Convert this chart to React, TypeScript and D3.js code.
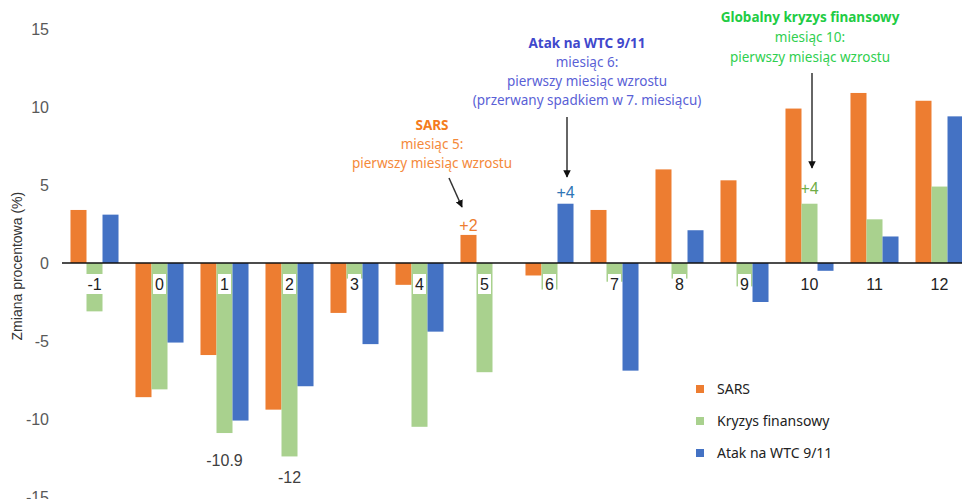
import { useEffect, useRef } from 'react';
import * as d3 from 'd3';

const months = ['-1', '0', '1', '2', '3', '4', '5', '6', '7', '8', '9', '10', '11', '12'];
const sars = [3.4, -8.6, -5.9, -9.4, -3.2, -1.4, 1.8, -0.8, 3.4, 6.0, 5.3, 9.9, 10.9, 10.4];
const kryzys = [-3.1, -8.1, -10.9, -12.4, -1.0, -10.5, -7.0, -1.7, -1.2, -1.0, -1.5, 3.8, 2.8, 4.9];
const wtc = [3.1, -5.1, -10.1, -7.9, -5.2, -4.4, 0, 3.8, -6.9, 2.1, -2.5, -0.5, 1.7, 9.4];
const seriesNames = ['SARS', 'Kryzys finansowy', 'Atak na WTC 9/11'];
const seriesColors = ['#ED7D31', '#A9D18E', '#4472C4'];
const yTicks = [15, 10, 5, 0, -5, -10, -15];

const W = 962;
const H = 499;

export default function App() {
  const svgRef = useRef<SVGSVGElement>(null);

  useEffect(() => {
    if (!svgRef.current) return;
    const svg = d3.select(svgRef.current);
    svg.selectAll('*').remove();

    const y = d3.scaleLinear().domain([-15, 15]).range([497, 29]);
    const x = d3.scaleBand().domain(months).range([62, 972]);
    const x1 = d3.scaleBand().domain(seriesNames).range([0, x.bandwidth()]).paddingOuter(0.53);

    const data = months.map((m, i) => ({ m, vals: [sars[i], kryzys[i], wtc[i]] }));

    // y tick labels
    svg.append('g')
      .selectAll('text')
      .data(yTicks)
      .enter()
      .append('text')
      .attr('x', 49)
      .attr('y', d => y(d))
      .attr('dy', '0.35em')
      .attr('text-anchor', 'end')
      .attr('font-family', 'Liberation Sans, Arial, sans-serif')
      .attr('font-size', 16)
      .attr('fill', '#595959')
      .text(d => d);

    svg.append('text')
      .attr('transform', `translate(22,${y(-0.2)}) rotate(-90)`)
      .attr('text-anchor', 'middle')
      .attr('font-family', 'Liberation Sans, Arial, sans-serif')
      .attr('font-size', 14)
      .attr('fill', '#333')
      .text('Zmiana procentowa (%)');

    // bars
    const groups = svg.append('g')
      .selectAll('g')
      .data(data)
      .enter()
      .append('g')
      .attr('transform', d => `translate(${x(d.m)},0)`);

    groups.selectAll('rect')
      .data(d => d.vals.map((v, j) => ({ v, s: seriesNames[j], c: seriesColors[j] })))
      .enter()
      .append('rect')
      .attr('x', d => x1(d.s) || 0)
      .attr('width', x1.bandwidth())
      .attr('y', d => y(Math.max(0, d.v)))
      .attr('height', d => Math.abs(y(d.v) - y(0)))
      .attr('fill', d => d.c);

    // zero line
    svg.append('line')
      .attr('x1', 62).attr('x2', W)
      .attr('y1', y(0)).attr('y2', y(0))
      .attr('stroke', '#111')
      .attr('stroke-width', 1.5);

    // category labels with white boxes
    const labels = svg.append('g')
      .selectAll('g')
      .data(months)
      .enter()
      .append('g')
      .attr('transform', d => `translate(${(x(d) || 0) + x.bandwidth() / 2},284)`);
    labels.append('rect')
      .attr('x', d => -d.length * 4.5 - 2)
      .attr('y', -10)
      .attr('width', d => d.length * 9 + 4)
      .attr('height', 20)
      .attr('fill', '#fff');
    labels.append('text')
      .attr('text-anchor', 'middle')
      .attr('dy', '0.35em')
      .attr('font-family', 'Liberation Sans, Arial, sans-serif')
      .attr('font-size', 16)
      .attr('fill', '#222')
      .text(d => d);

    // value callouts
    const callout = (txt: string, cx: number, cy: number, color: string) => {
      svg.append('text')
        .attr('x', cx).attr('y', cy)
        .attr('text-anchor', 'middle')
        .attr('dy', '0.35em')
        .attr('font-family', 'Liberation Sans, Arial, sans-serif')
        .attr('font-size', 16)
        .attr('fill', color)
        .text(txt);
    };
    callout('-10.9', (x('1') || 0) + x.bandwidth() / 2, y(-10.9) + 27, '#404040');
    callout('-12', (x('2') || 0) + x.bandwidth() / 2, y(-12.4) + 21, '#404040');
    callout('+2', (x('5') || 0) + (x1('SARS') || 0) + x1.bandwidth() / 2, y(1.8) - 10, '#ED7D31');
    callout('+4', (x('6') || 0) + (x1('Atak na WTC 9/11') || 0) + x1.bandwidth() / 2, y(3.8) - 11, '#2E75B6');
    callout('+4', (x('10') || 0) + (x1('Kryzys finansowy') || 0) + x1.bandwidth() / 2, y(3.8) - 15, '#70AD47');

    // annotations
    const defs = svg.append('defs');
    defs.append('marker')
      .attr('id', 'arrow')
      .attr('viewBox', '0 0 10 10')
      .attr('refX', 9).attr('refY', 5)
      .attr('markerWidth', 5).attr('markerHeight', 5)
      .attr('orient', 'auto')
      .append('path')
      .attr('d', 'M0,0 L10,5 L0,10 z')
      .attr('fill', '#111');

    const note = (lines: string[], cx: number, y0: number, lh: number, boldColor: string, color: string) => {
      lines.forEach((l, i) => {
        svg.append('text')
          .attr('x', cx).attr('y', y0 + i * lh)
          .attr('dy', '0.35em')
          .attr('text-anchor', 'middle')
          .attr('font-family', 'Noto Sans, Open Sans, sans-serif')
          .attr('font-size', 13.5)
          .attr('font-weight', i === 0 ? 'bold' : 'normal')
          .attr('fill', i === 0 ? boldColor : color)
          .text(l);
      });
    };
    const arrow = (x0: number, y0: number, x2: number, y2: number) => {
      svg.append('line')
        .attr('x1', x0).attr('y1', y0).attr('x2', x2).attr('y2', y2)
        .attr('stroke', '#333').attr('stroke-width', 1.5)
        .attr('marker-end', 'url(#arrow)');
    };

    note(['SARS', 'miesiąc 5:', 'pierwszy miesiąc wzrostu'], 432, 125, 19, '#F47C20', '#F4893A');
    arrow(449, 178, 462, 207);

    note(['Atak na WTC 9/11', 'miesiąc 6:', 'pierwszy miesiąc wzrostu', '(przerwany spadkiem w 7. miesiącu)'], 587, 43, 19, '#3F48CC', '#5A5FD6');
    arrow(567, 117, 567, 177);

    note(['Globalny kryzys finansowy', 'miesiąc 10:', 'pierwszy miesiąc wzrostu'], 810, 17, 20, '#22CC44', '#2FCF4F');
    arrow(812, 73, 812, 168);

    // legend
    const legend = svg.append('g')
      .selectAll('g')
      .data(seriesNames)
      .enter()
      .append('g')
      .attr('transform', (_d, i) => `translate(700,${389 + i * 32})`);
    legend.append('rect')
      .attr('x', -4).attr('y', -4)
      .attr('width', 8).attr('height', 8)
      .attr('fill', (_d, i) => seriesColors[i]);
    legend.append('text')
      .attr('x', 17)
      .attr('dy', '0.35em')
      .attr('font-family', 'Noto Sans, Open Sans, sans-serif')
      .attr('font-size', 14)
      .attr('fill', '#222')
      .text(d => d);
  }, []);

  return (
    <svg
      ref={svgRef}
      width={W}
      height={H}
      style={{ position: 'absolute', left: 0, top: 0, background: '#fff' }}
    />
  );
}
